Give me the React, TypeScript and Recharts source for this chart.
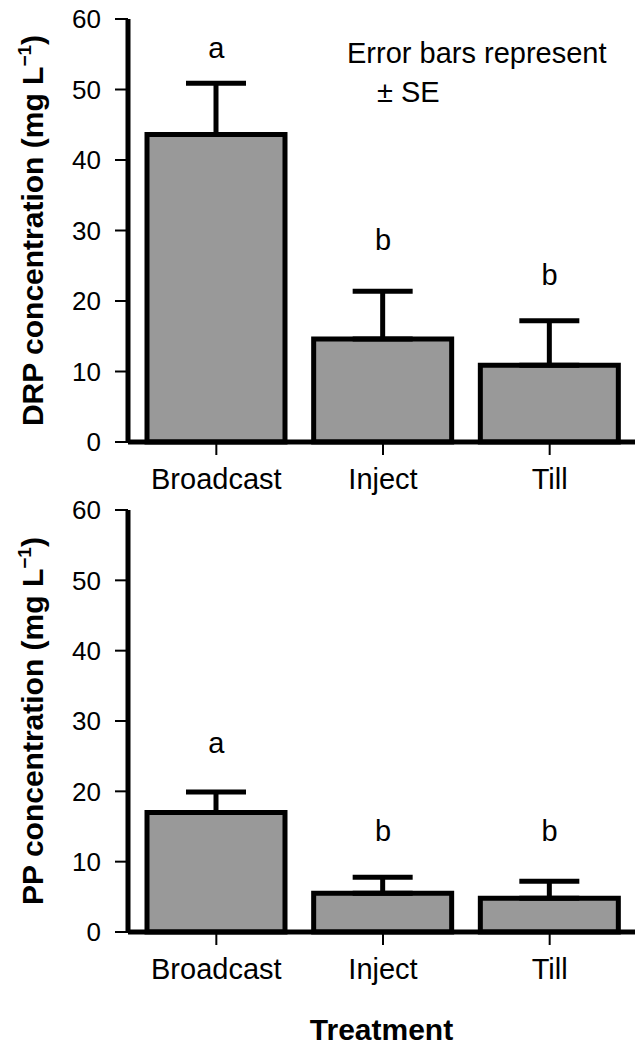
import React from 'react';
import { ComposedChart, Bar, XAxis, YAxis, ErrorBar, Line, Customized } from 'recharts';

const treatments = ['Broadcast', 'Inject', 'Till'];
const drpMean = [43.6, 14.6, 10.9];
const drpSE = [7.3, 6.8, 6.3];
const drpLetters = ['a', 'b', 'b'];
const drpLetterY = [54.5, 27.2, 22.3];
const ppMean = [17.0, 5.5, 4.8];
const ppSE = [2.9, 2.3, 2.4];
const ppLetters = ['a', 'b', 'b'];
const ppLetterY = [25.4, 12.9, 12.9];
const yTicks = [0, 10, 20, 30, 40, 50, 60];

const FONT = '"Liberation Sans", Arial, Helvetica, sans-serif';

function build(mean: number[], se: number[], letters: string[], ly: number[]) {
  return treatments.map((t, i) => ({ name: t, mean: mean[i], err: [0, se[i]], letter: letters[i], ly: ly[i] }));
}

const YLabel = (props: any) => {
  const vb = props.viewBox || { x: 0, y: 0, width: 128, height: 423 };
  const cx = vb.x + 43;
  const cy = vb.y + vb.height / 2;
  return (
    <text
      x={0}
      y={0}
      transform={`translate(${cx}, ${cy}) rotate(-90)`}
      textAnchor="middle"
      fontSize={30}
      fontWeight="bold"
      fill="#000"
      fontFamily={FONT}
    >
      {props.prefix}
      <tspan fontSize={19} dy={-12}>−1</tspan>
      <tspan dy={12}>)</tspan>
    </text>
  );
};

const LetterDot = (p: any) => {
  if (p.cx == null || p.cy == null) return <g key={p.index} />;
  return (
    <text key={p.index} x={p.cx} y={p.cy} textAnchor="middle" fontSize={29} fill="#000" fontFamily={FONT}>
      {p.payload.letter}
    </text>
  );
};

function Panel(props: {
  data: any[];
  height: number;
  top: number;
  axisHeight: number;
  prefix: string;
  title?: string;
  note?: boolean;
}) {
  const { data, height, top, axisHeight, prefix, title, note } = props;
  return (
    <ComposedChart
      width={637}
      height={height}
      data={data}
      margin={{ top, right: 2, bottom: 0, left: 0 }}
      style={{ fontFamily: FONT }}
    >
      <XAxis
        dataKey="name"
        height={axisHeight}
        padding={{ left: 5, right: 2 }}
        tickSize={13}
        tickMargin={13}
        tick={{ fontSize: 29, fill: '#000', fontFamily: FONT }}
        tickLine={{ stroke: '#000', strokeWidth: 2 }}
        axisLine={{ stroke: '#000', strokeWidth: 5 }}
        label={
          title
            ? { value: title, position: 'insideBottom', offset: 8, style: { fontSize: 30, fontWeight: 'bold', fill: '#000', fontFamily: FONT } }
            : undefined
        }
      />
      <XAxis
        xAxisId="top"
        dataKey="name"
        orientation="top"
        height={0}
        tick={false}
        tickLine={false}
        axisLine={{ stroke: '#000', strokeWidth: 5 }}
      />
      <YAxis
        width={128}
        domain={[0, 60]}
        ticks={yTicks}
        interval={0}
        tickSize={13}
        tickMargin={14}
        tick={{ fontSize: 26, fill: '#000', fontFamily: FONT }}
        tickLine={{ stroke: '#000', strokeWidth: 2 }}
        axisLine={{ stroke: '#000', strokeWidth: 5 }}
        label={{ content: (lp: any) => <YLabel {...lp} prefix={prefix} /> }}
      />
      <YAxis
        yAxisId="right"
        orientation="right"
        width={0}
        domain={[0, 60]}
        tick={false}
        tickLine={false}
        axisLine={{ stroke: '#000', strokeWidth: 3 }}
      />
      <Bar dataKey="mean" fill="#999999" stroke="#000" strokeWidth={5} barSize={138} isAnimationActive={false}>
        <ErrorBar dataKey="err" direction="y" width={30} stroke="#000" strokeWidth={5} isAnimationActive={false} />
      </Bar>
      <Line
        dataKey="ly"
        stroke="none"
        isAnimationActive={false}
        activeDot={false}
        legendType="none"
        dot={(p: any) => <LetterDot key={p.index} {...p} />}
      />
      {note ? (
        <Customized
          component={() => (
            <g fontFamily={FONT} fontSize={29} fill="#000">
              <text x={347} y={63}>Error bars represent</text>
              <text x={377} y={102}>± SE</text>
            </g>
          )}
        />
      ) : null}
    </ComposedChart>
  );
}

export default function App() {
  const drpData = build(drpMean, drpSE, drpLetters, drpLetterY);
  const ppData = build(ppMean, ppSE, ppLetters, ppLetterY);
  return (
    <div style={{ position: 'absolute', left: 0, top: 0, width: 637, height: 1048, background: '#fff', fontFamily: FONT }}>
      <div style={{ position: 'absolute', left: 0, top: 0 }}>
        <Panel data={drpData} height={496} top={19} axisHeight={54} prefix="DRP concentration (mg L" note />
      </div>
      <div style={{ position: 'absolute', left: 0, top: 496 }}>
        <Panel data={ppData} height={552} top={14} axisHeight={116} prefix="PP concentration (mg L" title="Treatment" />
      </div>
    </div>
  );
}
